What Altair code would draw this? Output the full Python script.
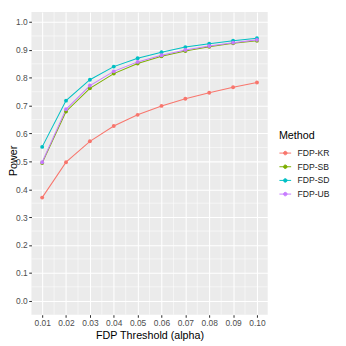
import altair as alt
import pandas as pd

alpha = [0.01, 0.02, 0.03, 0.04, 0.05, 0.06, 0.07, 0.08, 0.09, 0.10]
power_kr = [0.370, 0.497, 0.572, 0.627, 0.667, 0.699, 0.725, 0.746, 0.766, 0.783]
power_sb = [0.494, 0.679, 0.762, 0.815, 0.851, 0.877, 0.896, 0.911, 0.924, 0.933]
power_sd = [0.552, 0.718, 0.793, 0.840, 0.870, 0.892, 0.910, 0.922, 0.933, 0.942]
power_ub = [0.497, 0.687, 0.772, 0.823, 0.857, 0.881, 0.900, 0.914, 0.926, 0.936]
methods = ["FDP-KR", "FDP-SB", "FDP-SD", "FDP-UB"]
colors = ["#F8766D", "#7CAE00", "#00BFC4", "#C77CFF"]
x_ticks = alpha
y_ticks = [0.0, 0.1, 0.2, 0.3, 0.4, 0.5, 0.6, 0.7, 0.8, 0.9, 1.0]
x_minor = [0.015, 0.025, 0.035, 0.045, 0.055, 0.065, 0.075, 0.085, 0.095]
y_minor = [0.05, 0.15, 0.25, 0.35, 0.45, 0.55, 0.65, 0.75, 0.85, 0.95]

rows = []
for m, vals in zip(methods, [power_kr, power_sb, power_sd, power_ub]):
    for a, p in zip(alpha, vals):
        rows.append({"alpha": a, "power": p, "Method": m})
df = pd.DataFrame(rows)

xscale = alt.Scale(domain=[0.0055, 0.1045], nice=False, zero=False)
yscale = alt.Scale(domain=[-0.05, 1.036], nice=False, zero=False)

xaxis = alt.Axis(
    values=x_ticks,
    format=".2f",
    title="FDP Threshold (alpha)",
    labelOverlap=False,
    labelFlush=False,
)
yaxis = alt.Axis(
    values=y_ticks,
    format=".1f",
    title="Power",
    labelOverlap=False,
    labelFlush=False,
    titleX=-15.5,
    titleY=152,
    titleAngle=270,
    titleAlign="center",
    titleBaseline="alphabetic",
)

color = alt.Color(
    "Method:N",
    scale=alt.Scale(domain=methods, range=colors),
    legend=alt.Legend(
        title="Method",
        orient="none",
        legendX=253.5,
        legendY=121,
        titleFontSize=11,
        titleFontWeight="normal",
        titleColor="#000000",
        titlePadding=6,
        labelFontSize=8.8,
        labelColor="#1A1A1A",
        labelOffset=6,
        symbolType="M -1 0 L 1 0 M -0.3 0 A 0.3 0.3 0 1 0 0.3 0 A 0.3 0.3 0 1 0 -0.3 0",
        symbolSize=144,
        symbolStrokeWidth=1,
        rowPadding=2,
        padding=0,
    ),
)

xminor = alt.Chart(pd.DataFrame({"alpha": x_minor})).mark_rule(
    color="white", strokeWidth=0.55
).encode(x=alt.X("alpha:Q", scale=xscale, axis=xaxis))
yminor = alt.Chart(pd.DataFrame({"power": y_minor})).mark_rule(
    color="white", strokeWidth=0.55
).encode(y=alt.Y("power:Q", scale=yscale, axis=yaxis))

base = alt.Chart(df).encode(
    x=alt.X("alpha:Q", scale=xscale, axis=xaxis),
    y=alt.Y("power:Q", scale=yscale, axis=yaxis),
    color=color,
)

lines = base.mark_line(strokeWidth=1.05)
points = base.mark_point(filled=True, size=16, opacity=1)

chart = (
    alt.layer(xminor, yminor, lines, points)
    .properties(
        width=242,
        height=310,
        autosize=alt.AutoSizeParams(type="none"),
        padding={"left": 24, "top": 0, "right": 72, "bottom": 28},
        background="white",
    )
    .configure_view(fill="#EBEBEB", stroke=None)
    .configure_axis(
        grid=True,
        gridColor="white",
        gridWidth=1.07,
        domain=False,
        ticks=True,
        tickColor="#333333",
        tickSize=2.75,
        tickWidth=1.07,
        labelFont="Liberation Sans",
        labelFontSize=8.6,
        labelColor="#4D4D4D",
        labelPadding=1.5,
        titleFont="Liberation Sans",
        titleFontSize=11,
        titleFontWeight="normal",
        titleColor="#000000",
    )
    .configure_axisX(titlePadding=3)
    .configure_legend(titleFont="Liberation Sans", labelFont="Liberation Sans")
)

chart.save("out.html", embed_options={"renderer": "svg", "actions": False})
